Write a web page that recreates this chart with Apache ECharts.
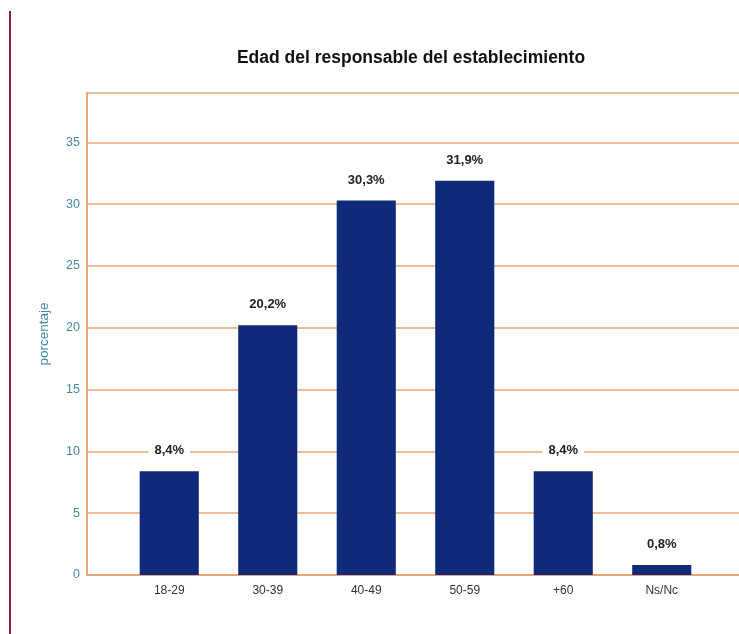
<!DOCTYPE html>
<html>
<head>
<meta charset="utf-8">
<script src="https://cdn.jsdelivr.net/npm/echarts@6/dist/echarts.min.js"></script>
<style>
  html, body { margin: 0; padding: 0; background: #fff; }
  #chart { width: 739px; height: 634px; }
</style>
</head>
<body>
<div id="chart"></div>
<script>
// data
const categories = ['18-29', '30-39', '40-49', '50-59', '+60', 'Ns/Nc'];
const percentages = [8.4, 20.2, 30.3, 31.9, 8.4, 0.8];
const yTicks = [0, 5, 10, 15, 20, 25, 30, 35];

const orange = '#EBA675';
const font = '"Liberation Sans", Arial, sans-serif';

const chart = echarts.init(document.getElementById('chart'));

chart.setOption({
  animation: false,
  backgroundColor: '#fff',
  title: {
    text: 'Edad del responsable del establecimiento',
    left: 406,
    textAlign: 'center',
    top: 44,
    textStyle: { fontFamily: font, fontSize: 17.5, fontWeight: 'bold', color: '#111' }
  },
  // left border of the page
  graphic: [{
    type: 'rect',
    shape: { x: 9, y: 11, width: 2, height: 640 },
    style: { fill: '#8E1450' }
  }],
  grid: [
    // frame with gridlines
    { left: 87, right: 0, top: 93, bottom: 59 },
    // bars
    { left: 120, right: 28, top: 93, bottom: 59 }
  ],
  xAxis: [
    {
      gridIndex: 0, type: 'value', min: 0, max: 1,
      axisLine: { show: true, lineStyle: { color: orange, width: 2 } },
      axisTick: { show: false }, axisLabel: { show: false }, splitLine: { show: false }
    },
    {
      gridIndex: 1, type: 'category', data: categories,
      axisLine: { show: false }, axisTick: { show: false },
      axisLabel: { fontFamily: font, fontSize: 12, color: '#333', margin: 10 }
    }
  ],
  yAxis: [
    {
      gridIndex: 0, type: 'value', min: 0, max: 39, interval: 5,
      name: 'porcentaje', nameLocation: 'middle', nameGap: 36,
      nameTextStyle: { fontFamily: font, fontSize: 13.5, color: '#3F86A6' },
      axisLine: { show: true, lineStyle: { color: orange, width: 2 } },
      axisTick: { show: false },
      axisLabel: {
        fontFamily: font, fontSize: 12.5, color: '#4A86A6', margin: 7,
        showMaxLabel: false,
        formatter: v => (yTicks.indexOf(v) >= 0 ? String(v) : '')
      },
      splitLine: { show: true, lineStyle: { color: orange, width: 1.5 } }
    },
    {
      gridIndex: 1, type: 'value', min: 0, max: 39, interval: 5, show: false
    }
  ],
  series: [{
    type: 'bar',
    xAxisIndex: 1, yAxisIndex: 1,
    data: percentages,
    barWidth: '60%',
    itemStyle: { color: '#0E2A78' },
    label: {
      show: true, position: 'top', distance: 12,
      formatter: p => p.value.toFixed(1).replace('.', ',') + '%',
      fontFamily: font, fontSize: 13, fontWeight: 'bold', color: '#222',
      backgroundColor: '#fff', padding: [2, 6]
    }
  }]
});
</script>
</body>
</html>
